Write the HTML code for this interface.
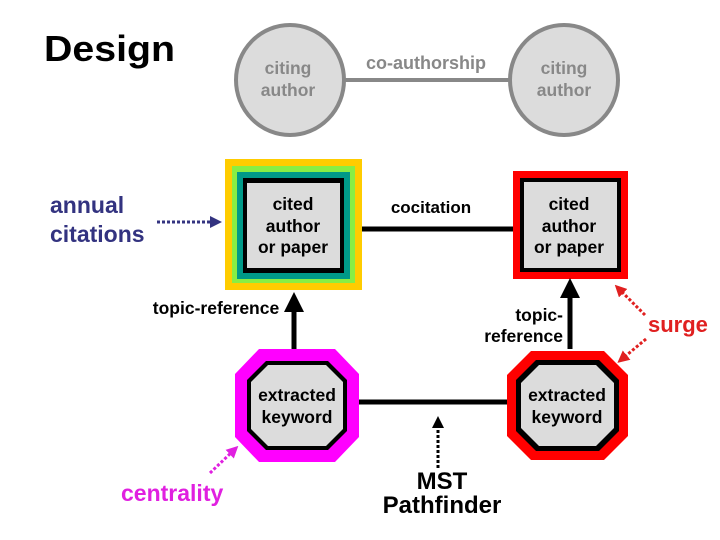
<!DOCTYPE html>
<html><head><meta charset="utf-8"><style>
html,body{margin:0;padding:0;background:#fff;}
svg{display:block;font-family:"Liberation Sans",Arial,sans-serif;font-weight:bold;}
</style></head><body>
<svg width="720" height="540" viewBox="0 0 720 540" xmlns="http://www.w3.org/2000/svg">
<defs>
<marker id="ab" markerWidth="4" markerHeight="4" refX="2" refY="2" orient="auto" markerUnits="strokeWidth"><path d="M0,0 L4,2 L0,4 z" fill="#000"/></marker>
<marker id="an" markerWidth="4" markerHeight="4" refX="2" refY="2" orient="auto" markerUnits="strokeWidth"><path d="M0,0 L4,2 L0,4 z" fill="#333380"/></marker>
<marker id="ar" markerWidth="4" markerHeight="4" refX="2" refY="2" orient="auto" markerUnits="strokeWidth"><path d="M0,0 L4,2 L0,4 z" fill="#e02020"/></marker>
<marker id="am" markerWidth="4" markerHeight="4" refX="2" refY="2" orient="auto" markerUnits="strokeWidth"><path d="M0,0 L4,2 L0,4 z" fill="#e020e0"/></marker>
</defs>
<text x="44" y="61" font-size="36" fill="#000" textLength="131" lengthAdjust="spacingAndGlyphs">Design</text>

<!-- top ellipses -->
<line x1="344" y1="80" x2="510" y2="80" stroke="#888" stroke-width="4"/>
<ellipse cx="290" cy="80" rx="54" ry="55" fill="#dcdcdc" stroke="#888" stroke-width="4"/>
<ellipse cx="564" cy="80" rx="54" ry="55" fill="#dcdcdc" stroke="#888" stroke-width="4"/>
<text x="288" y="74" font-size="17.5" fill="#888" text-anchor="middle">citing</text>
<text x="288" y="96" font-size="17.5" fill="#888" text-anchor="middle">author</text>
<text x="564" y="74" font-size="17.5" fill="#888" text-anchor="middle">citing</text>
<text x="564" y="96" font-size="17.5" fill="#888" text-anchor="middle">author</text>
<text x="426" y="69" font-size="18" fill="#888" text-anchor="middle">co-authorship</text>

<!-- left cited square -->
<rect x="225" y="159" width="137" height="131" fill="#ffcc00"/>
<rect x="232" y="166" width="123" height="117" fill="#88ee44"/>
<rect x="237" y="172" width="113" height="107" fill="#009988"/>
<rect x="243" y="178" width="101" height="95" fill="#000"/>
<rect x="247" y="183" width="93" height="85" fill="#dcdcdc"/>
<text x="293" y="210" font-size="17.5" fill="#000" text-anchor="middle">cited</text>
<text x="293" y="232" font-size="17.5" fill="#000" text-anchor="middle">author</text>
<text x="293" y="253" font-size="17.5" fill="#000" text-anchor="middle">or paper</text>

<!-- cocitation -->
<line x1="362" y1="229" x2="513" y2="229" stroke="#000" stroke-width="5"/>
<text x="431" y="213" font-size="17" fill="#000" text-anchor="middle">cocitation</text>

<!-- right cited square -->
<rect x="513" y="171" width="115" height="108" fill="#ff0000"/>
<rect x="520" y="178" width="101" height="94" fill="#000"/>
<rect x="524" y="182" width="93" height="86" fill="#dcdcdc"/>
<text x="569" y="210" font-size="17.5" fill="#000" text-anchor="middle">cited</text>
<text x="569" y="232" font-size="17.5" fill="#000" text-anchor="middle">author</text>
<text x="569" y="253" font-size="17.5" fill="#000" text-anchor="middle">or paper</text>

<!-- annual citations -->
<text x="50" y="213" font-size="23" fill="#333380">annual</text>
<text x="50" y="242" font-size="23" fill="#333380">citations</text>
<line x1="157" y1="222" x2="216" y2="222" stroke="#333380" stroke-width="3" stroke-dasharray="3,2" marker-end="url(#an)"/>

<!-- vertical arrows -->
<line x1="294" y1="350" x2="294" y2="302" stroke="#000" stroke-width="5" marker-end="url(#ab)"/>
<text x="216" y="314" font-size="17.5" fill="#000" text-anchor="middle">topic-reference</text>
<line x1="570" y1="349" x2="570" y2="288" stroke="#000" stroke-width="5" marker-end="url(#ab)"/>
<text x="563" y="321" font-size="17.5" fill="#000" text-anchor="end">topic-</text>
<text x="563" y="342" font-size="17.5" fill="#000" text-anchor="end">reference</text>

<!-- horizontal MST line -->
<line x1="358" y1="402" x2="508" y2="402" stroke="#000" stroke-width="5"/>
<line x1="438" y1="468" x2="438" y2="422" stroke="#000" stroke-width="3" stroke-dasharray="3,2" marker-end="url(#ab)"/>
<text x="442" y="489" font-size="24" fill="#000" text-anchor="middle">MST</text>
<text x="442" y="513" font-size="24" fill="#000" text-anchor="middle">Pathfinder</text>

<!-- left octagon -->
<polygon points="259,349 335,349 359,374 359,437 335,462 259,462 235,437 235,374" fill="#ff00ff"/>
<polygon points="266,361 328,361 347,380 347,431 328,450 266,450 247,431 247,380" fill="#000"/>
<polygon points="268,365 326,365 343,382 343,429 326,446 268,446 251,429 251,382" fill="#dcdcdc"/>
<text x="297" y="401" font-size="17.5" fill="#000" text-anchor="middle">extracted</text>
<text x="297" y="423" font-size="17.5" fill="#000" text-anchor="middle">keyword</text>

<!-- right octagon -->
<polygon points="531,351 604,351 628,375 628,436 604,460 531,460 507,436 507,375" fill="#ff0000"/>
<polygon points="536,360 599,360 619,380 619,431 599,451 536,451 516,431 516,380" fill="#000"/>
<polygon points="539,365 596,365 614,383 614,428 596,446 539,446 521,428 521,383" fill="#dcdcdc"/>
<text x="567" y="401" font-size="17.5" fill="#000" text-anchor="middle">extracted</text>
<text x="567" y="423" font-size="17.5" fill="#000" text-anchor="middle">keyword</text>

<!-- surge -->
<text x="648" y="332" font-size="22" fill="#e02020">surge</text>
<line x1="645" y1="315" x2="619" y2="289" stroke="#e02020" stroke-width="3" stroke-dasharray="3,2" marker-end="url(#ar)"/>
<line x1="646" y1="339" x2="622" y2="359" stroke="#e02020" stroke-width="3" stroke-dasharray="3,2" marker-end="url(#ar)"/>

<!-- centrality -->
<text x="121" y="501" font-size="23" fill="#e020e0">centrality</text>
<line x1="210" y1="473" x2="234" y2="450" stroke="#e020e0" stroke-width="3" stroke-dasharray="3,2" marker-end="url(#am)"/>
</svg>
</body></html>
